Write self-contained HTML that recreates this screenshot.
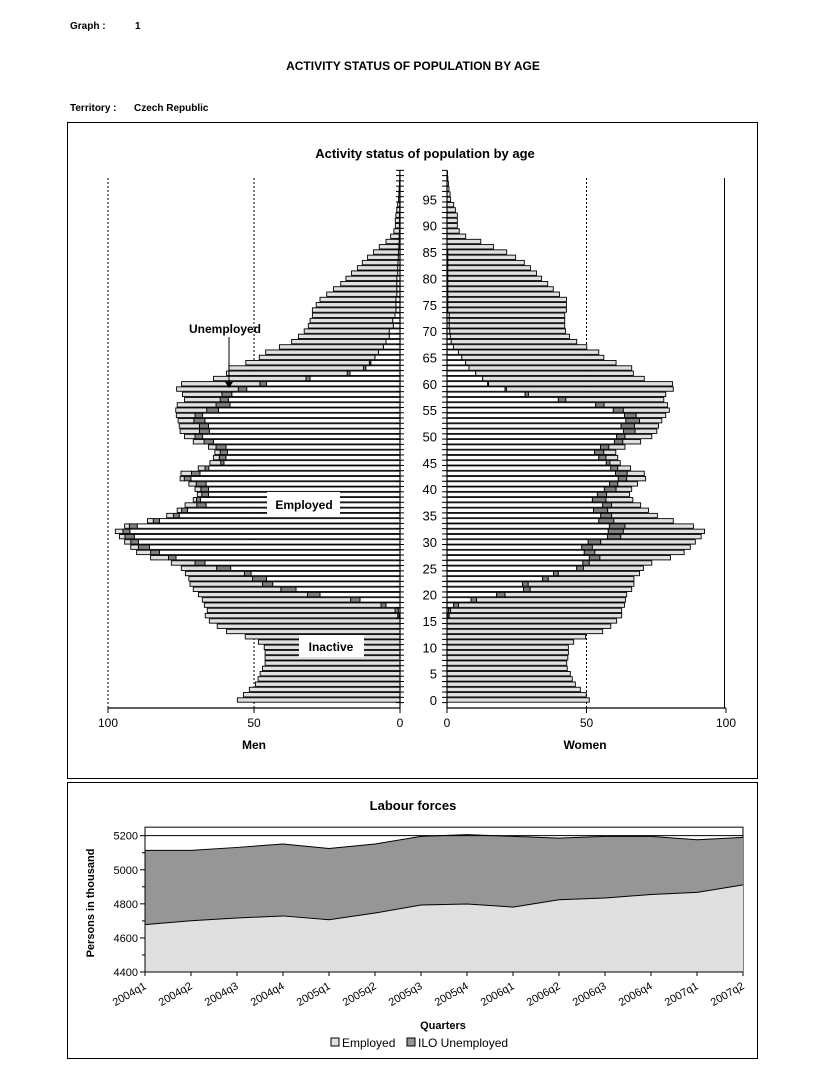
<!DOCTYPE html>
<html><head><meta charset="utf-8"><style>
html,body{margin:0;padding:0;background:#fff;}
svg{display:block;font-family:"Liberation Sans",Arial,sans-serif;}
</style></head><body>
<svg id="root" width="824" height="1068" viewBox="0 0 824 1068" xmlns="http://www.w3.org/2000/svg">
<text x="70" y="29" font-size="10" font-weight="bold">Graph :</text>
<text x="135" y="29" font-size="10" font-weight="bold">1</text>
<text x="413" y="70" font-size="12" font-weight="bold" text-anchor="middle">ACTIVITY STATUS OF POPULATION BY AGE</text>
<text x="70" y="111" font-size="10" font-weight="bold">Territory :</text>
<text x="134" y="111" font-size="10" font-weight="bold">Czech Republic</text>
<rect x="67.5" y="122.5" width="690" height="656" fill="#fff" stroke="#000"/>
<rect x="67.5" y="782.5" width="690" height="276" fill="#fff" stroke="#000"/>
<text x="425" y="158" font-size="13" font-weight="bold" text-anchor="middle">Activity status of population by age</text>
<g id="pyr"></g>
<text x="413" y="810" font-size="13" font-weight="bold" text-anchor="middle">Labour forces</text>
<g id="lab"></g>
</svg>
<script>
const menEmployed=[0,0,0,0,0,0,0,0,0,0,0,0,0,0,0,0,0.3,0.6,4.8,13.7,27.4,35.6,43.6,45.7,51.0,58,66.8,76.7,82.4,85.8,89.6,91,92.5,90,82.4,75.6,72.8,66.4,68.3,65.6,65.6,66.4,71.6,68.5,65.5,60.3,59.6,59.1,59.6,63.9,67.6,65.3,65.6,66.8,67.6,62.2,58.2,58.8,57.6,52.5,45.7,30.8,17.1,11.7,10,8.6,7.4,5.7,4.8,3.7,3.7,2.3,2.5,1.7,1.4,1.4,1.4,1.1,1.1,1.1,1.1,0.8,0.8,0.7,0.6,0.5,0.4,0.3,0.3,0.2,0.2,0.2,0.2,0.1,0.1,0.1,0.1,0,0,0,0];
const menUnemployed=[0,0,0,0,0,0,0,0,0,0,0,0,0,0,0,0,0.5,1.1,1.7,3.2,4.3,5.2,3.5,4.8,2.3,4.8,3.4,2.6,3,3.8,2.6,3.2,2.4,2.7,2.1,2,2,3.2,1.4,2.3,2.6,3.4,2.3,2.9,1.3,1.1,2.3,2.5,3.4,3.2,2.6,3.4,3.1,3.8,2.6,4,4.8,2.8,3.4,2.9,2.3,1.4,1,0.8,0.5,0,0,0,0,0,0,0,0,0,0,0,0,0,0,0,0,0,0,0,0,0,0,0,0,0,0,0,0,0,0,0,0,0,0,0,0];
const menTotal=[55.7,53.6,51.6,49.5,48.6,47.9,47.1,46.2,46.2,46.2,46.5,48.5,53,59.4,62.6,65.3,66.7,66,67,67.7,69,70.8,71.9,72.3,73.5,74.9,78.3,85.4,90.2,92.2,94.3,96.1,97.5,94.3,86.5,79.9,76.3,73.6,70.8,69.4,70.2,72.3,75.3,75,69.1,65.1,63.9,63.4,65.6,70.8,73.8,75.3,75.6,76,76.6,76.8,76.3,73.8,74.5,76.5,74.8,63.9,59.4,58.6,52.8,48.2,46,41.3,37.1,34.8,32.8,31.4,30.8,30,30,28.7,27.4,25.1,22.8,20.3,18.5,16.6,14.6,12.9,11.1,9.1,7.1,4.8,3.2,2.1,1.6,1.6,1.4,1.1,0.8,0.5,0.4,0.3,0.2,0.1,0.1];
const womenEmployed=[0,0,0,0,0,0,0,0,0,0,0,0,0,0,0,0,0.3,0.5,2.4,8.6,17.8,27.4,27.1,34.3,38.2,46.5,48.7,51,49.2,48.3,50.6,57.5,57.8,58.2,54.4,55.1,52.5,55.8,52.1,53.9,56.4,58.3,61.4,60.4,58.7,57.1,54.4,52.9,55,60,60.8,63.3,62.4,64.1,63.6,59.6,53.3,39.9,28,20.8,14.6,12.8,10.3,7.9,6.7,5.3,4.1,2.3,1.5,1.2,1,0.8,0.8,0.8,0.3,0.3,0.3,0.3,0.3,0.3,0.3,0.3,0.3,0.3,0.3,0.3,0,0,0,0,0,0,0,0,0,0,0,0,0,0,0,0];
const womenUnemployed=[0,0,0,0,0,0,0,0,0,0,0,0,0,0,0,0,0.5,0.8,1.7,2,3,2.4,2,2,1.7,2.4,2.3,3.8,3.8,3.8,4.5,4.8,5.4,5.6,5.4,3.9,5.1,3.2,4.9,3.3,4.2,2.9,3,4.2,2.5,1.3,2.6,3.3,3,3,3,4.1,4.8,4.9,4.2,3.6,3,2.7,1.2,0.5,0.3,0,0,0,0,0,0,0,0,0,0,0,0,0,0,0,0,0,0,0,0,0,0,0,0,0,0,0,0,0,0,0,0,0,0,0,0,0,0,0,0];
const womenTotal=[51,49.9,47.8,46,44.9,44.2,43.1,42.9,43.3,43.5,43.5,45.4,49.7,55.8,58.7,60.8,62.6,62.6,63.6,64,64.4,66.2,67,67,69,70.4,73.4,80.1,85,87.2,89,91.1,92.3,88.3,81.1,75.4,72.2,69.4,66.6,65.4,66.2,68.3,71.2,70.7,65.8,62.1,61.2,60.5,63.8,69.4,73.4,75.2,75.8,77,78.4,79.7,79,77.7,78.4,81.1,80.8,70.7,66.8,66.2,60.6,56.2,54.4,50.1,46.5,43.9,42.5,42.2,42.2,42.2,42.8,42.8,42.8,40.3,38.1,36.1,33.9,32.1,29.9,27.7,24.6,21.4,16.7,12.1,6.7,4.4,3.7,3.7,3.7,3,2.4,1.3,1.1,0.7,0.5,0.3,0.2];
const ageTickLabels=[0,5,10,15,20,25,30,35,40,45,50,55,60,65,70,75,80,85,90,95];
const shareTicks=[0,50,100];
const quarters=["2004q1","2004q2","2004q3","2004q4","2005q1","2005q2","2005q3","2005q4","2006q1","2006q2","2006q3","2006q4","2007q1","2007q2"];
const employedSeries=[4678,4701,4717,4729,4707,4746,4793,4799,4781,4824,4834,4855,4867,4911];
const labourTotalSeries=[5114,5114,5131,5151,5125,5151,5196,5206,5196,5186,5196,5196,5176,5190];
const labourYTicks=[4400,4600,4800,5000,5200];

const NS="http://www.w3.org/2000/svg";
function mk(tag,attrs,parent){const e=document.createElementNS(NS,tag);for(const k in attrs)e.setAttribute(k,attrs[k]);parent.appendChild(e);return e;}
const pyr=document.getElementById('pyr');
const menX=v=>400-v*2.92, womenX=v=>447+v*2.79, ageY=a=>700-5.27*a;

[108,254].forEach(x=>{const l=mk('line',{x1:x,y1:178,x2:x,y2:708,stroke:'#000','stroke-width':1,'stroke-dasharray':'2,2'},pyr);

});
{const l=mk('line',{x1:womenX(50),y1:178,x2:womenX(50),y2:708,stroke:'#000','stroke-width':1,'stroke-dasharray':'2,2'},pyr);

}
{const l=mk('line',{x1:724.5,y1:178,x2:724.5,y2:708,stroke:'#000','stroke-width':1},pyr);

}

function seg(x1,x2,y,fill,name){if(Math.abs(x2-x1)<0.05)return;const r=mk('rect',{x:Math.min(x1,x2),y:y-2.2,width:Math.abs(x2-x1),height:4.4,fill:fill,stroke:'#000','stroke-width':0.9},pyr);

}
for(let a=0;a<=100;a++){const y=ageY(a);
 const me=menEmployed[a], mu=menUnemployed[a], mt=menTotal[a];
 seg(menX(0),menX(me),y,'#fff','men-employed-bar');
 seg(menX(me),menX(me+mu),y,'#808080','men-unemployed-bar');
 seg(menX(me+mu),menX(Math.max(mt,me+mu)),y,'#e0e0e0','men-inactive-bar');
 const we=womenEmployed[a], wu=womenUnemployed[a], wt=womenTotal[a];
 seg(womenX(0),womenX(we),y,'#fff','women-employed-bar');
 seg(womenX(we),womenX(we+wu),y,'#808080','women-unemployed-bar');
 seg(womenX(we+wu),womenX(Math.max(wt,we+wu)),y,'#e0e0e0','women-inactive-bar');
}
[[400,396,404],[447,442,447]].forEach(([x,t1,t2],i)=>{const l=mk('line',{x1:x,y1:175,x2:x,y2:708,stroke:'#000','stroke-width':1.2},pyr);


for(let a=0;a<=101;a++){const t=mk('line',{x1:t1,y1:ageY(a)+2.6,x2:t2,y2:ageY(a)+2.6,stroke:'#000','stroke-width':1},pyr);

}});
ageTickLabels.forEach(a=>{const t=mk('text',{x:437,y:ageY(a)+5,'font-size':13,'text-anchor':'end',fill:'#000'},pyr);t.textContent=a;

});
[[menX,108,400,'men'],[womenX,447,726,'women']].forEach(([f,a,b,n])=>{const l=mk('line',{x1:a,y1:708,x2:b,y2:708,stroke:'#000','stroke-width':1.2},pyr);


shareTicks.forEach(v=>{const t=mk('line',{x1:f(v),y1:708,x2:f(v),y2:713,stroke:'#000'},pyr);


const tx=mk('text',{x:f(v),y:727,'font-size':12,'text-anchor':'middle'},pyr);tx.textContent=v;

});});
{const t=mk('text',{x:254,y:749,'font-size':12,'font-weight':'bold','text-anchor':'middle'},pyr);t.textContent='Men';

}
{const t=mk('text',{x:585,y:749,'font-size':12,'font-weight':'bold','text-anchor':'middle'},pyr);t.textContent='Women';

}
{const t=mk('text',{x:225,y:333,'font-size':12,'font-weight':'bold','text-anchor':'middle'},pyr);t.textContent='Unemployed';


const l=mk('line',{x1:229,y1:337,x2:229,y2:384,stroke:'#000'},pyr);


const p=mk('polygon',{points:'225,382 233,382 229,388',fill:'#000'},pyr);

}
[['Employed',267,492,73,304,509],['Inactive',299,635,65,331,651]].forEach(([s,x,y,w,tx,ty])=>{const r=mk('rect',{x:x,y:y,width:w,height:22,fill:'#fff'},pyr);


const t=mk('text',{x:tx,y:ty,'font-size':12,'font-weight':'bold','text-anchor':'middle'},pyr);t.textContent=s;

});

const lab=document.getElementById('lab');
const qx=i=>145+i*(598/13), vy=v=>972-(v-4400)*0.1704;
{const r=mk('rect',{x:145,y:vy(5250),width:598,height:vy(4400)-vy(5250),fill:'#fff',stroke:'#000'},lab);

}
const topPts=quarters.map((q,i)=>qx(i)+','+vy(labourTotalSeries[i])).join(' ');
const empPts=quarters.map((q,i)=>qx(i)+','+vy(employedSeries[i])).join(' ');
{const p=mk('polygon',{points:topPts+' '+qx(13)+','+vy(4400)+' '+qx(0)+','+vy(4400),fill:'#969696'},lab);

}
{const p=mk('polygon',{points:empPts+' '+qx(13)+','+vy(4400)+' '+qx(0)+','+vy(4400),fill:'#e0e0e0'},lab);

}
{const l=mk('line',{x1:145,y1:vy(5200),x2:743,y2:vy(5200),stroke:'#000'},lab);

}
[topPts,empPts].forEach((pts,i)=>{const pl=mk('polyline',{points:pts,fill:'none',stroke:'#000','stroke-width':1},lab);

});
{const l=mk('line',{x1:145,y1:vy(5250),x2:145,y2:vy(4400),stroke:'#000'},lab);


const l2=mk('line',{x1:145,y1:vy(4400),x2:743,y2:vy(4400),stroke:'#000'},lab);

}
for(let v=4400;v<=5200;v+=100){const major=labourYTicks.indexOf(v)>=0;const t=mk('line',{x1:major?140:142,y1:vy(v),x2:145,y2:vy(v),stroke:'#000'},lab);

}
labourYTicks.forEach(v=>{const t=mk('text',{x:138,y:vy(v)+4,'font-size':11,'text-anchor':'end'},lab);t.textContent=v;

});
quarters.forEach((q,i)=>{const t=mk('line',{x1:qx(i),y1:vy(4400),x2:qx(i),y2:vy(4400)+4,stroke:'#000'},lab);


const tx=mk('text',{x:qx(i)+2,y:vy(4400)+16,'font-size':11,'text-anchor':'end',transform:'rotate(-30 '+(qx(i)+2)+' '+(vy(4400)+16)+')'},lab);tx.textContent=q;

});
{const t=mk('text',{x:94,y:903,'font-size':11,'font-weight':'bold','text-anchor':'middle',transform:'rotate(-90 94 903)'},lab);t.textContent='Persons in thousand';

}
{const t=mk('text',{x:443,y:1029,'font-size':11,'font-weight':'bold','text-anchor':'middle'},lab);t.textContent='Quarters';

}
[['#e0e0e0','Employed',331],['#969696','ILO Unemployed',407]].forEach(([c,s,x])=>{const r=mk('rect',{x:x,y:1038,width:8,height:8,fill:c,stroke:'#000'},lab);


const t=mk('text',{x:x+11,y:1047,'font-size':12},lab);t.textContent=s;

});
</script>
</body></html>
